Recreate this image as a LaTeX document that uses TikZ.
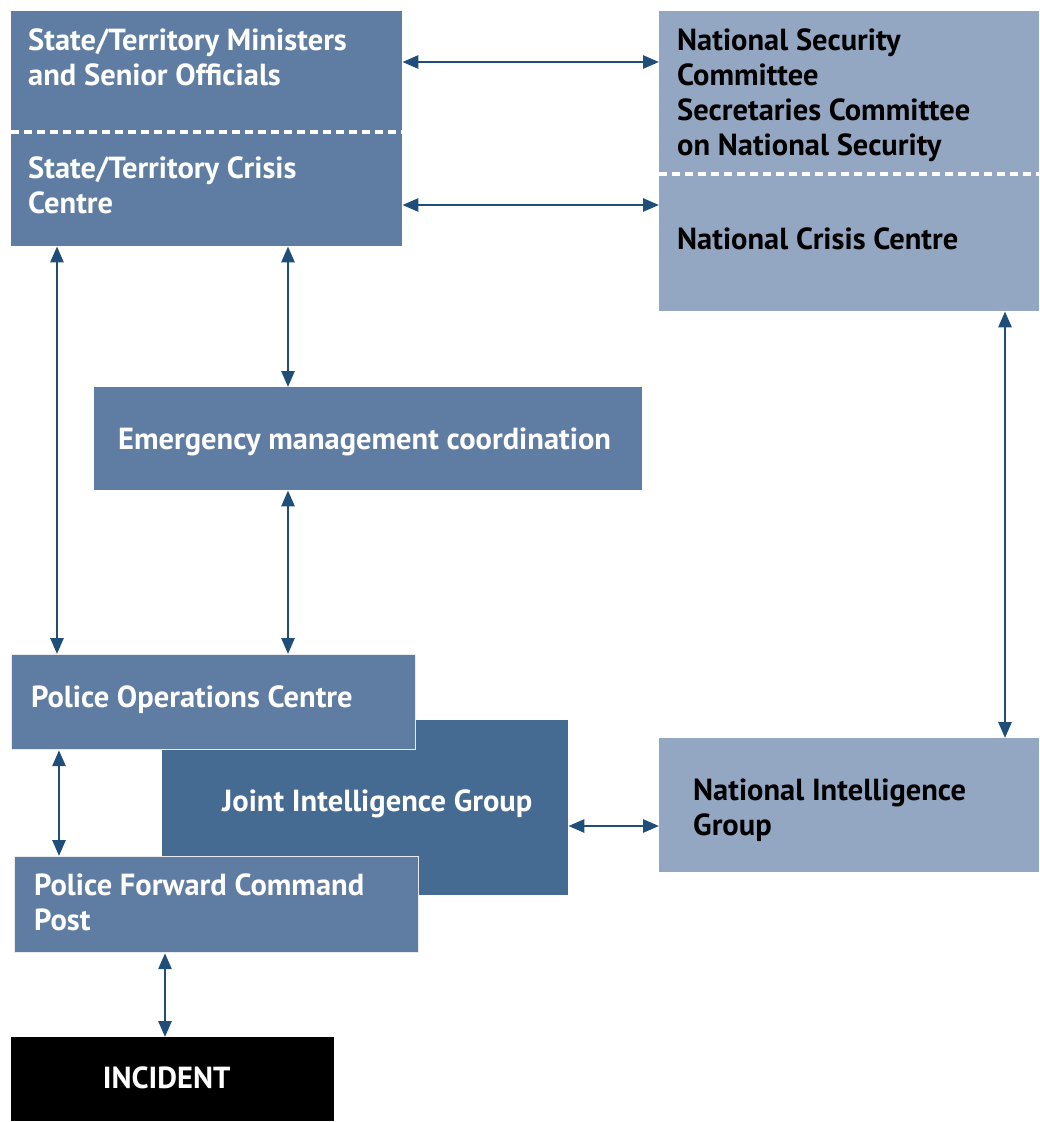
\documentclass[tikz,border=0pt]{standalone}
\usepackage{fontspec}
\setmainfont{PT Sans}
\usetikzlibrary{arrows.meta}
\definecolor{boxmid}{RGB}{95,125,162}
\definecolor{boxlight}{RGB}{148,167,194}
\definecolor{boxdark}{RGB}{70,107,147}
\definecolor{arrowblue}{RGB}{31,78,121}
\tikzset{
  box/.style={draw=none, inner sep=0pt, anchor=north west},
  midbox/.style={box, fill=boxmid},
  lightbox/.style={box, fill=boxlight},
  darkbox/.style={box, fill=boxdark},
  edged/.style={draw=white!85!boxmid, line width=1.2pt},
  lbl/.style={anchor=north west, inner sep=0pt, align=left, font=\fontsize{30.5}{35}\selectfont\bfseries},
  wlbl/.style={lbl, text=white},
  blbl/.style={lbl, text=black},
  sep/.style={draw=white, line width=3.5pt, dash pattern=on 8pt off 5pt},
  conn/.style={draw=arrowblue, line width=2.8pt, {Triangle[length=16pt,width=13pt]}-{Triangle[length=16pt,width=13pt]}}
}
\begin{document}
\begin{tikzpicture}[x=1pt,y=-1pt]
\useasboundingbox (0,0) rectangle (1039,1122);
% top-left group
\node[midbox, minimum width=391pt, minimum height=122pt] (min) at (11,11) {};
\node[midbox, minimum width=391pt, minimum height=114pt] (cri) at (11,132) {};
\draw[sep] (11,132) -- (402,132);
% top-right group
\node[lightbox, minimum width=380pt, minimum height=164pt] (nsc) at (659,11) {};
\node[lightbox, minimum width=380pt, minimum height=137pt] (ncc) at (659,174) {};
\draw[sep] (659,174) -- (1039,174);
% emergency
\node[midbox, minimum width=548pt, minimum height=103pt] (emc) at (94,387) {};
% JIG behind
\node[darkbox, minimum width=406pt, minimum height=175pt] (jig) at (162,720) {};
\node[midbox, edged, minimum width=404pt, minimum height=95pt] (poc) at (11,654) {};
\node[midbox, edged, minimum width=404pt, minimum height=96pt] (pfc) at (14,856) {};
\node[lightbox, minimum width=380pt, minimum height=134pt] (nig) at (659,738) {};
\node[box, fill=black, minimum width=323pt, minimum height=84pt] (inc) at (11,1037) {};
% labels
\node[wlbl] (tmin) at (28,29) {State/Territory Ministers\\and Senior Officials};
\node[wlbl] (tcri) at (28,157) {State/Territory Crisis\\Centre};
\node[blbl] (tnsc) at (677,29) {National Security\\Committee\\Secretaries Committee\\on National Security};
\node[blbl] (tncc) at (677,228) {National Crisis Centre};
\node[wlbl] (temc) at (118,428) {Emergency management coordination};
\node[wlbl] (tpoc) at (31,686) {Police Operations Centre};
\node[wlbl] (tjig) at (222,790) {Joint Intelligence Group};
\node[blbl] (tnig) at (693,779) {National Intelligence\\Group};
\node[wlbl] (tpfc) at (34,874) {Police Forward Command\\Post};
\node[wlbl, anchor=center] (tinc) at ([xshift=-6pt,yshift=1pt]inc.center) {INCIDENT};
% connectors
\draw[conn] (min.east |- 0,62) -- (nsc.west |- 0,62);
\draw[conn] (cri.east |- 0,205) -- (ncc.west |- 0,205);
\draw[conn] (cri.south -| 57,0) -- (poc.north -| 57,0);
\draw[conn] (cri.south -| 288,0) -- (emc.north -| 288,0);
\draw[conn] (emc.south -| 288,0) -- (poc.north -| 288,0);
\draw[conn] (ncc.south -| 1005,0) -- (nig.north -| 1005,0);
\draw[conn] (poc.south -| 59,0) -- (pfc.north -| 59,0);
\draw[conn] (jig.east |- 0,826) -- (nig.west |- 0,826);
\draw[conn] (pfc.south -| 165,0) -- (inc.north -| 165,0);
\end{tikzpicture}
\end{document}
